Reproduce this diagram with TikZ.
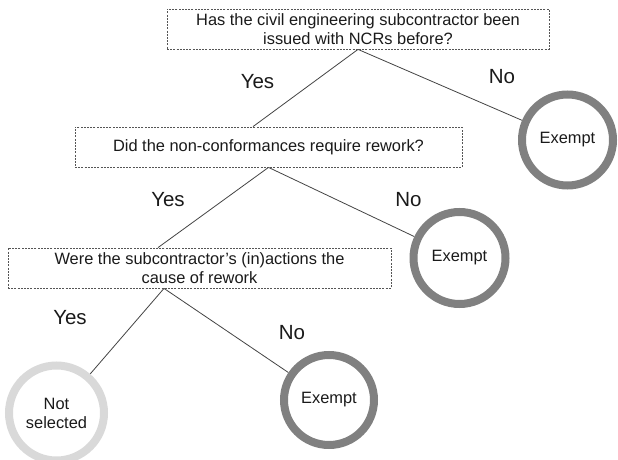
\documentclass[tikz,border=0pt]{standalone}
\usepackage{fontspec}
\setmainfont{Liberation Sans}
\usetikzlibrary{backgrounds}
\definecolor{ringdark}{HTML}{808080}
\definecolor{ringlight}{HTML}{D9D9D9}
\definecolor{boxline}{HTML}{555555}
\definecolor{conn}{HTML}{444444}
\definecolor{txt}{HTML}{1A1A1A}
\begin{document}
\begin{tikzpicture}[x=1pt,y=-1pt,
  qbox/.style={draw=boxline, line width=0.8pt, dash pattern=on 2pt off 1.2pt,
    minimum height=40pt, inner sep=0pt, align=center, text=txt,
    font=\fontsize{16.4}{19}\selectfont},
  ring/.style={circle, draw=ringdark, line width=8pt, inner sep=0pt, align=center,
    text=txt, font=\fontsize{16.4}{19}\selectfont},
  lightring/.style={ring, draw=ringlight},
  ans/.style={text=txt, font=\fontsize{20.5}{24}\selectfont, inner sep=0pt},
  conline/.style={draw=conn, line width=0.8pt}]
\useasboundingbox (0,0) rectangle (618,460);

\node[qbox, minimum width=382pt] (b1) at (358,29)
  {Has the civil engineering subcontractor been\\issued with NCRs before?};
\node[qbox, minimum width=387pt] (b2) at (268.5,147)
  {Did the non-conformances require rework?};
\node[qbox, minimum width=383pt] (b3) at (199.5,268)
  {Were the subcontractor's (in)actions the\\cause of rework};

\node[ring, minimum size=91pt] (c1) at (567.5,140) {Exempt};
\node[ring, minimum size=92pt] (c2) at (459.5,258) {Exempt};
\node[ring, minimum size=90pt] (c3) at (329,400) {Exempt};
\node[lightring, minimum size=95pt] (c4) at (56.5,413) {Not\\selected};

\node[ans] (y1) at (257.5,82) {Yes};
\node[ans] (n1) at (502,77) {No};
\node[ans] (y2) at (168,200) {Yes};
\node[ans] (n2) at (408.5,199.5) {No};
\node[ans] (y3) at (70,318) {Yes};
\node[ans] (n3) at (292,333) {No};

\begin{scope}[on background layer]
\fill[white] (0,0) rectangle (618,460);
\coordinate (b2top) at ([xshift=-15.5pt]b2.north);
\coordinate (b3top) at ([xshift=-41.5pt]b3.north);
\coordinate (b3bot) at ([xshift=-35.5pt]b3.south);
\draw[conline] (b1.south) -- (b2top);
\draw[conline] (b1.south) -- (c1);
\draw[conline] (b2.south) -- (b3top);
\draw[conline] (b2.south) -- (c2);
\draw[conline] (b3bot) -- (c4);
\draw[conline] (b3bot) -- (c3);
\end{scope}
\end{tikzpicture}
\end{document}
